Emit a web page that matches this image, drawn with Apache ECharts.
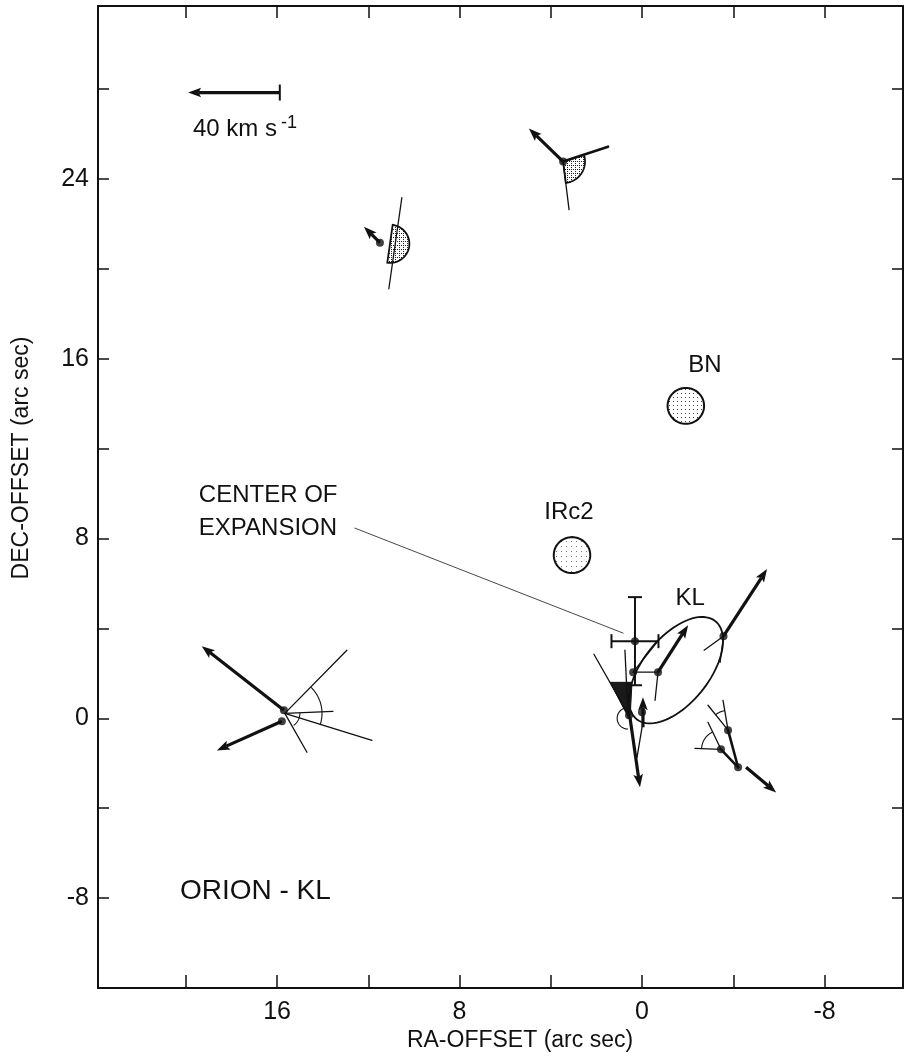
<!DOCTYPE html>
<html><head><meta charset="utf-8">
<script src="https://cdn.jsdelivr.net/npm/echarts@6/dist/echarts.min.js"></script>
<style>html,body{margin:0;padding:0;background:#fff}#chart{width:904px;height:1061px}</style>
</head><body><div id="chart"></div>
<script>
// ===== data (all in arc sec; angles are position angles, deg E of N) =====
const xTicks = [20, 16, 12, 8, 4, 0, -4, -8];
const xTickLabels = [16, 8, 0, -8];
const yTicks = [28, 24, 20, 16, 12, 8, 4, 0, -4, -8];
const yTickLabels = [24, 16, 8, 0, -8];

// proper-motion vectors [x0, y0, x1, y1]
const velocityArrows = [
  [11.49, 21.16, 12.19, 21.87],
  [3.46, 24.77, 4.96, 26.24],
  [15.70, 0.36, 19.30, 3.21],
  [15.79, -0.13, 18.64, -1.43],
  [-3.57, 3.65, -5.48, 6.64],
  [-0.70, 2.05, -2.02, 4.14],
  [0.53, 0.04, 0.09, -3.07],
  [-0.04, -0.40, -0.04, 0.94],
  [-4.56, -2.18, -5.88, -3.30]
];
// 40 km/s scale vector [x0, y0, x1, y1]
const scaleVector = [[15.88, 27.84, 19.90, 27.84]];
// cone edges and other thin segments [x0, y0, x1, y1]
const thinLines = [
  [10.53, 23.16, 11.10, 19.11],
  [3.46, 24.77, 3.20, 22.63],
  [15.66, 0.22, 12.94, 3.03],
  [15.66, 0.22, 11.84, -0.98],
  [15.66, 0.22, 13.55, 0.31],
  [15.66, 0.22, 14.69, -1.51],
  [-3.57, 3.65, -2.72, 3.03],
  [-3.57, 3.65, -3.42, 2.49],
  [-0.70, 2.05, 0.39, 2.05],
  [-0.70, 2.05, -0.57, 0.80],
  [0.39, 2.05, -0.79, 3.56],
  [2.11, 2.85, 0.53, 0.04],
  [0.75, 3.03, 0.61, 0.04],
  [0.00, -0.40, 0.22, -1.74],
  [-3.55, 0.80, -3.77, -0.53],
  [-2.89, 0.58, -3.77, -0.53],
  [-2.89, -0.18, -3.46, -1.38],
  [-2.32, -1.34, -3.46, -1.38]
];
const thickLines = [
  [3.46, 24.77, 1.49, 25.43],
  [-3.77, -0.53, -4.21, -2.18],
  [-3.46, -1.38, -4.21, -2.18]
];
const leaderLine = [[12.59, 8.46, 0.83, 3.79]];
// maser spots [x, y]
const spots = [
  [11.49, 21.16], [3.46, 24.77], [15.70, 0.36], [15.79, -0.13],
  [0.31, 3.43], [-3.57, 3.65], [-0.70, 2.05], [0.39, 2.05],
  [0.57, 0.13], [0.00, 0.27], [-3.77, -0.53], [-3.46, -1.38], [-4.21, -2.18]
];
// angle arcs [cx, cy, r, pa0, pa1]
const angleArcs = [
  [15.66, 0.22, 1.63, -108, -45],
  [15.66, 0.22, 0.66, -144, -90],
  [-3.77, -0.53, 0.88, 9, 39],
  [-3.46, -1.38, 0.85, 26, 88],
  [0.61, 0.00, 0.48, 10, 180]
];
// stippled half-discs [cx, cy, r, pa0, pa1]
const stippledSectors = [
  [11.05, 21.11, 0.85, -188, -8],
  [3.46, 24.77, 0.96, -173, -72]
];
// infrared sources [x, y, r]  (BN, IRc2)
const irSources = [[-1.92, 13.90, 0.80], [3.07, 7.26, 0.80]];
// KL ellipse [cx, cy, a, b, pa]
const klEllipse = [[-1.49, 2.14, 2.78, 1.46, -38]];
// center of expansion [x, y, xerr, yerr]
const expansionCenter = [[0.31, 3.43, 1.03, 1.96]];
// dark cone polygon vertices
const darkCone = [[[1.40, 1.60], [0.44, 1.60], [0.53, -0.09]]];
// labels
const leftLabelText = ['CENTER OF', 'EXPANSION', 'ORION - KL', '40 km s{sup|-1}'];
const leftLabelPos = [[19.43, 9.93], [19.43, 8.46], [20.26, -7.71], [19.69, 26.19]];
const centerLabelText = ['IRc2', 'BN', 'KL'];
const centerLabelPos = [[3.20, 9.18], [-2.76, 15.68], [-2.11, 5.35]];

// ===== rendering =====
const FONT = '"Liberation Sans", Arial, sans-serif';
const INK = '#111';
const chart = echarts.init(document.getElementById('chart'));

function stipple(size, color, extra) {
  const c = document.createElement('canvas');
  c.width = size; c.height = size;
  const g = c.getContext('2d');
  g.fillStyle = '#fff'; g.fillRect(0, 0, size, size);
  g.fillStyle = color;
  g.fillRect(1, 1, 1, 1);
  if (extra) { g.fillRect(3, 3, 1, 1); g.fillRect(3, 1, 1, 1); }
  return c;
}
const bnDots = { image: stipple(4, '#444', false), repeat: 'repeat' };
const ircDots = { image: stipple(5, '#777', false), repeat: 'repeat' };
const darkDots = { image: stipple(4, '#222', true), repeat: 'repeat' };

function paPoint(cx, cy, r, pa) {
  const t = pa * Math.PI / 180;
  return [cx + r * Math.sin(t), cy + r * Math.cos(t)];
}
function arcCoords(api, cx, cy, r, a0, a1, n) {
  const pts = [];
  for (let i = 0; i <= n; i++) pts.push(api.coord(paPoint(cx, cy, r, a0 + (a1 - a0) * i / n)));
  return pts;
}
function arrowEls(p0, p1, lw, headL, headW) {
  const dx = p1[0] - p0[0], dy = p1[1] - p0[1];
  const len = Math.hypot(dx, dy) || 1;
  const ux = dx / len, uy = dy / len;
  const bx = p1[0] - ux * headL * 0.8, by = p1[1] - uy * headL * 0.8;
  const hx = p1[0] - ux * headL, hy = p1[1] - uy * headL;
  return [
    { type: 'line', shape: { x1: p0[0], y1: p0[1], x2: bx, y2: by }, style: { stroke: INK, lineWidth: lw } },
    { type: 'polygon', shape: { points: [[p1[0], p1[1]], [hx - uy * headW, hy + ux * headW], [bx, by], [hx + uy * headW, hy - ux * headW]] }, style: { fill: INK } }
  ];
}
function segSeries(data, lw, color) {
  return {
    type: 'custom', coordinateSystem: 'cartesian2d', data: data, silent: true,
    encode: { x: [0, 2], y: [1, 3] },
    renderItem: (params, api) => {
      const p0 = api.coord([api.value(0), api.value(1)]);
      const p1 = api.coord([api.value(2), api.value(3)]);
      return { type: 'line', shape: { x1: p0[0], y1: p0[1], x2: p1[0], y2: p1[1] }, style: { stroke: color || INK, lineWidth: lw, lineCap: 'round' } };
    }
  };
}

const axisCommon = {
  type: 'value',
  axisLine: { show: true, onZero: false, lineStyle: { color: INK, width: 2 } },
  splitLine: { show: false }
};

const option = {
  backgroundColor: '#fff',
  animation: false,
  grid: { left: 98, right: 1, top: 6, bottom: 73 },
  xAxis: [
    Object.assign({}, axisCommon, {
      position: 'bottom', min: -11.44, max: 23.85, inverse: true,
      axisTick: { show: true, inside: true, length: 13, customValues: xTicks, lineStyle: { color: INK, width: 1.5 } },
      axisLabel: { show: true, customValues: xTickLabels, margin: 12, color: INK, fontSize: 25, fontFamily: FONT }
    }),
    Object.assign({}, axisCommon, {
      position: 'top', min: -11.44, max: 23.85, inverse: true,
      axisTick: { show: true, inside: true, length: 12, customValues: xTicks, lineStyle: { color: INK, width: 1.5 } },
      axisLabel: { show: false }
    })
  ],
  yAxis: [
    Object.assign({}, axisCommon, {
      position: 'left', min: -12, max: 31.69,
      axisTick: { show: true, inside: true, length: 11, customValues: yTicks, lineStyle: { color: INK, width: 1.5 } },
      axisLabel: { show: true, customValues: yTickLabels, margin: 9, color: INK, fontSize: 25, fontFamily: FONT }
    }),
    Object.assign({}, axisCommon, {
      position: 'right', min: -12, max: 31.69,
      axisTick: { show: true, inside: true, length: 11, customValues: yTicks, lineStyle: { color: INK, width: 1.5 } },
      axisLabel: { show: false }
    })
  ],
  graphic: [
    { type: 'text', x: 520, y: 1041, style: { text: 'RA-OFFSET (arc sec)', fontSize: 23, fontFamily: FONT, fill: INK, align: 'center', verticalAlign: 'middle' } },
    { type: 'text', x: 22, y: 458, rotation: Math.PI / 2, style: { text: 'DEC-OFFSET (arc sec)', fontSize: 23, fontFamily: FONT, fill: INK, align: 'center', verticalAlign: 'middle' } }
  ],
  series: [
    // IR sources
    {
      type: 'custom', coordinateSystem: 'cartesian2d', data: irSources, silent: true,
      renderItem: (params, api) => {
        const pts = arcCoords(api, api.value(0), api.value(1), api.value(2), 0, 360, 72);
        return { type: 'polygon', shape: { points: pts }, style: { fill: params.dataIndex === 0 ? bnDots : ircDots, stroke: INK, lineWidth: 2 } };
      }
    },
    // stippled half-discs
    {
      type: 'custom', coordinateSystem: 'cartesian2d', data: stippledSectors, silent: true,
      renderItem: (params, api) => {
        const c = [api.value(0), api.value(1)];
        const pts = [api.coord(c)].concat(arcCoords(api, c[0], c[1], api.value(2), api.value(3), api.value(4), 40));
        return { type: 'polygon', shape: { points: pts }, style: { fill: darkDots, stroke: INK, lineWidth: 1.8 } };
      }
    },
    // dark cone
    {
      type: 'custom', coordinateSystem: 'cartesian2d', data: darkCone.map(c => [c[0][0], c[0][1]]), silent: true,
      renderItem: (params, api) => {
        const pts = darkCone[params.dataIndex].map(v => api.coord(v));
        return { type: 'polygon', shape: { points: pts }, style: { fill: '#1a1a1a', stroke: INK, lineWidth: 1 } };
      }
    },
    // KL ellipse
    {
      type: 'custom', coordinateSystem: 'cartesian2d', data: klEllipse, silent: true,
      renderItem: (params, api) => {
        const cx = api.value(0), cy = api.value(1), a = api.value(2), b = api.value(3);
        const t = api.value(4) * Math.PI / 180;
        const u = [Math.sin(t), Math.cos(t)], v = [Math.cos(t), -Math.sin(t)];
        const pts = [];
        for (let i = 0; i <= 90; i++) {
          const s = i / 90 * 2 * Math.PI;
          pts.push(api.coord([cx + a * Math.cos(s) * u[0] + b * Math.sin(s) * v[0], cy + a * Math.cos(s) * u[1] + b * Math.sin(s) * v[1]]));
        }
        return { type: 'polyline', shape: { points: pts }, style: { stroke: INK, lineWidth: 1.8, fill: null } };
      }
    },
    // angle arcs
    {
      type: 'custom', coordinateSystem: 'cartesian2d', data: angleArcs, silent: true,
      renderItem: (params, api) => {
        const pts = arcCoords(api, api.value(0), api.value(1), api.value(2), api.value(3), api.value(4), 30);
        return { type: 'polyline', shape: { points: pts }, style: { stroke: INK, lineWidth: 1.1, fill: null } };
      }
    },
    segSeries(leaderLine, 0.9, '#333'),
    segSeries(thinLines, 1.3),
    segSeries(thickLines, 2.6),
    // center of expansion with error bars
    {
      type: 'custom', coordinateSystem: 'cartesian2d', data: expansionCenter, silent: true,
      renderItem: (params, api) => {
        const x = api.value(0), y = api.value(1), ex = api.value(2), ey = api.value(3);
        const l = api.coord([x + ex, y]), r = api.coord([x - ex, y]);
        const t = api.coord([x, y + ey]), b = api.coord([x, y - ey]);
        const cap = 7, st = { stroke: INK, lineWidth: 2 };
        return { type: 'group', children: [
          { type: 'line', shape: { x1: l[0], y1: l[1], x2: r[0], y2: r[1] }, style: st },
          { type: 'line', shape: { x1: t[0], y1: t[1], x2: b[0], y2: b[1] }, style: st },
          { type: 'line', shape: { x1: l[0], y1: l[1] - cap, x2: l[0], y2: l[1] + cap }, style: st },
          { type: 'line', shape: { x1: r[0], y1: r[1] - cap, x2: r[0], y2: r[1] + cap }, style: st },
          { type: 'line', shape: { x1: t[0] - cap, y1: t[1], x2: t[0] + cap, y2: t[1] }, style: st },
          { type: 'line', shape: { x1: b[0] - cap, y1: b[1], x2: b[0] + cap, y2: b[1] }, style: st }
        ] };
      }
    },
    // velocity vectors
    {
      type: 'custom', coordinateSystem: 'cartesian2d', data: velocityArrows, silent: true,
      encode: { x: [0, 2], y: [1, 3] },
      renderItem: (params, api) => {
        const p0 = api.coord([api.value(0), api.value(1)]);
        const p1 = api.coord([api.value(2), api.value(3)]);
        return { type: 'group', children: arrowEls(p0, p1, 3.2, 13, 4.8) };
      }
    },
    // scale vector
    {
      type: 'custom', coordinateSystem: 'cartesian2d', data: scaleVector, silent: true,
      renderItem: (params, api) => {
        const p0 = api.coord([api.value(0), api.value(1)]);
        const p1 = api.coord([api.value(2), api.value(3)]);
        return { type: 'group', children: arrowEls(p0, p1, 3.2, 13, 4.8).concat([
          { type: 'line', shape: { x1: p0[0], y1: p0[1] - 8, x2: p0[0], y2: p0[1] + 8 }, style: { stroke: INK, lineWidth: 2 } }
        ]) };
      }
    },
    // spots
    { type: 'scatter', data: spots, symbol: 'circle', symbolSize: 8, itemStyle: { color: INK }, silent: true, z: 5 },
    // labels (left aligned)
    {
      type: 'custom', coordinateSystem: 'cartesian2d', data: leftLabelPos, silent: true, z: 6,
      renderItem: (params, api) => {
        const p = api.coord([api.value(0), api.value(1)]);
        const big = params.dataIndex === 2;
        return { type: 'text', x: p[0], y: p[1], style: {
          text: leftLabelText[params.dataIndex], fill: INK, fontFamily: FONT,
          fontSize: big ? 28 : 24, align: 'left', verticalAlign: 'middle',
          rich: { sup: { fontSize: 18, fontFamily: FONT, fill: INK, verticalAlign: 'top', padding: [0, 0, 14, 4] } }
        } };
      }
    },
    // labels (centered)
    {
      type: 'custom', coordinateSystem: 'cartesian2d', data: centerLabelPos, silent: true, z: 6,
      renderItem: (params, api) => {
        const p = api.coord([api.value(0), api.value(1)]);
        return { type: 'text', x: p[0], y: p[1], style: {
          text: centerLabelText[params.dataIndex], fill: INK, fontFamily: FONT,
          fontSize: 24, align: 'center', verticalAlign: 'middle'
        } };
      }
    }
  ]
};
chart.setOption(option);
</script>
</body></html>
